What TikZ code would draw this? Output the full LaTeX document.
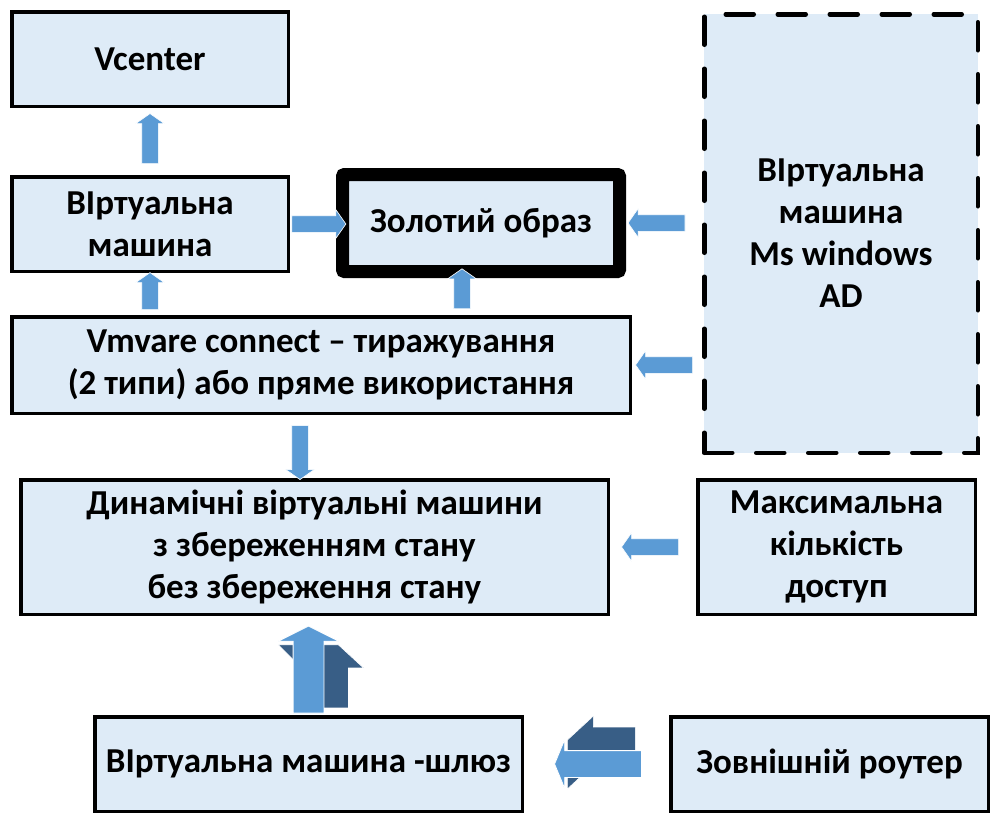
\documentclass[tikz,border=0pt]{standalone}
\usepackage{fontspec}
\setmainfont{Carlito}
\usetikzlibrary{shapes.arrows,calc}

\definecolor{boxfill}{RGB}{222,235,247}
\definecolor{arrowblue}{RGB}{91,155,213}
\definecolor{arrowdark}{RGB}{56,94,134}

\begin{document}
\begin{tikzpicture}[x=1pt, y=-1pt,
  plain box/.style = {
    draw, line width=3.5pt, fill=boxfill,
    align=center, inner sep=0pt,
    font=\fontsize{35}{42}\selectfont\bfseries,
  },
  flat arrow/.style = {
    single arrow, fill=arrowblue, draw=white, line width=0.6pt,
    inner xsep=0pt, inner ysep=8pt, text height=0pt, text depth=0pt,
    single arrow head extend=6pt, single arrow tip angle=110,
    minimum height=#1,
  },
  solid arrow/.style = {
    single arrow, fill=arrowblue, draw=white, line width=0.8pt,
    inner xsep=0pt, text height=0pt, text depth=0pt,
    minimum height=87pt,
  },
  side face/.style = {fill=arrowdark, draw=white, line width=0.6pt}]
  \useasboundingbox (0,0) rectangle (994,815);

  % boxes
  \node[plain box, minimum width=276.5pt, minimum height=94.5pt]
    (vcenter) at (150,59) {Vcenter};
  \node[plain box, minimum width=276.5pt, minimum height=94.5pt]
    (vm) at (150,224) {ВІртуальна\\машина};
  \node[plain box, line width=13pt, rounded corners=2pt,
    minimum width=277pt, minimum height=97pt]
    (gold) at (481,223) {Золотий образ};
  \node[plain box, line width=4.5pt, dash pattern=on 28pt off 24pt,
    line cap=round, minimum width=273.5pt, minimum height=438.5pt]
    (winvm) at (841,233.5) {ВІртуальна\\машина\\Ms windows\\AD};
  \node[plain box, minimum width=618.5pt, minimum height=96.5pt]
    (connect) at (321,365)
    {Vmvare connect – тиражування\\(2 типи) або пряме використання};
  \node[plain box, minimum width=587.5pt, minimum height=134.5pt]
    (dyn) at (314.5,547)
    {Динамічні віртуальні машини\\з збереженням стану\\без збереження стану};
  \node[plain box, minimum width=277.5pt, minimum height=134.5pt]
    (maxc) at (836.5,547) {Максимальна\\кількість\\доступ};
  \node[plain box, minimum width=427.5pt, minimum height=94.5pt]
    (gw) at (308.5,764) {ВІртуальна машина -шлюз};
  \node[plain box, minimum width=317.5pt, minimum height=94.5pt]
    (router) at (829.5,764) {Зовнішній роутер};

  % flat arrows
  \path (vm.north) -- (vcenter.south)
    node[midway, flat arrow=50pt, rotate=90] {};
  \path (vm.east) -- (vm.east -| gold.west)
    node[midway, xshift=3pt, flat arrow=54pt] {};
  \path (winvm.west |- gold.east) -- (gold.east)
    node[pos=0.56, flat arrow=57pt, rotate=180] {};
  \path (connect.north -| vm.south) -- (vm.south)
    node[midway, flat arrow=37pt, rotate=90] {};
  \path ($(gold.south |- connect.north)+(-19,0)$) -- ($(gold.south)+(-19,0)$)
    node[pos=0.63, flat arrow=40pt, rotate=90] {};
  \path (winvm.west |- connect.east) -- (connect.east)
    node[midway, flat arrow=57pt, rotate=180] {};
  \path ($(connect.south)+(-21,0)$) -- ($(connect.south |- dyn.north)+(-21,0)$)
    node[pos=0.55, flat arrow=54pt, rotate=-90] {};
  \path (maxc.west) -- (maxc.west -| dyn.east)
    node[midway, flat arrow=57pt, rotate=180] {};

  % arrows with a shaded side
  \path (gw.north) -- (gw.north |- dyn.south) coordinate[pos=0.42] (up3d);
  \filldraw[side face, shift={(up3d)}]
    (15,-28.5) -- (30,-28.5) -- (55,-5.5) -- (40,-5.5) -- (40,34.5) -- (15,34.5) -- cycle
    (-30,-28.5) -- (-15,-28.5) -- (-15,-13.5) -- cycle;
  \node[solid arrow, inner ysep=15pt, single arrow head extend=15pt,
    single arrow tip angle=127, rotate=90] at (up3d) {};

  \path (router.west) -- (router.west -| gw.east) coordinate[pos=0.47] (left3d);
  \filldraw[side face, shift={(left3d)}]
    (-33.5,-13) -- (-33.5,-24) -- (-7.5,-48) -- (-7.5,-37) -- (34.5,-37) -- (34.5,-13) -- cycle
    (-33.5,13) -- (-20.5,13) -- (-33.5,25) -- cycle;
  \node[solid arrow, inner ysep=13pt, single arrow head extend=11pt,
    single arrow tip angle=135, rotate=180] at (left3d) {};
\end{tikzpicture}
\end{document}
